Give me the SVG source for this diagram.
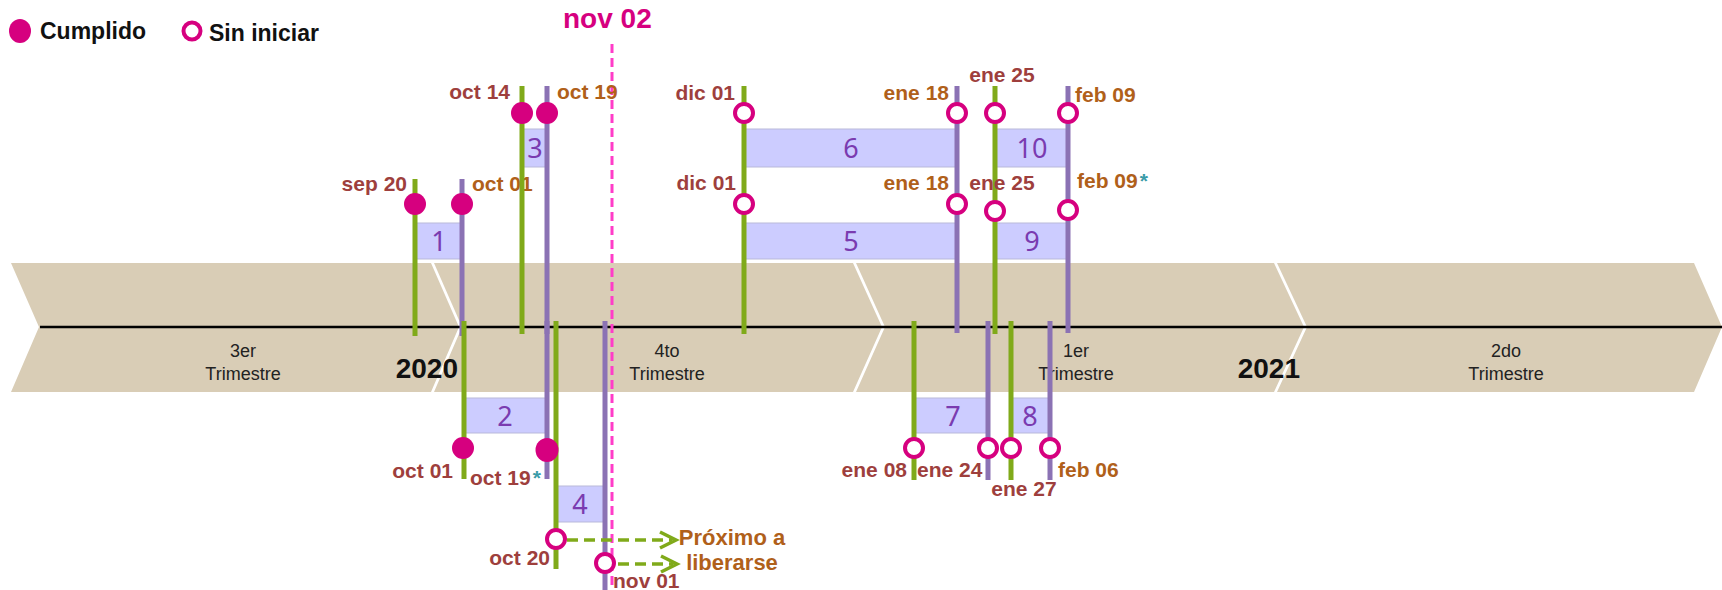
<svg xmlns="http://www.w3.org/2000/svg" width="1722" height="590" viewBox="0 0 1722 590">
<defs>
<style>
.band{fill:#D9CDB6}
.mid{stroke:#000;stroke-width:2.5}
.qt{font-family:"Liberation Sans",Arial,sans-serif;font-size:18px;fill:#222;text-anchor:middle}
.yr{font-family:"Liberation Sans",Arial,sans-serif;font-size:28px;font-weight:bold;fill:#111;text-anchor:end}
.bar{fill:#CCCCFF;stroke:#B9B9DA;stroke-width:1}
.num{font-family:"Noto Sans","Open Sans",sans-serif;font-size:27px;fill:#7A3BB0;text-anchor:middle}
.g{stroke:#80AA1A;stroke-width:5}
.p{stroke:#8B72B4;stroke-width:5}
.done{fill:#D6007F}
.todo{fill:#fff;stroke:#D6007F;stroke-width:4}
.lb{font-family:"Liberation Sans",Arial,sans-serif;font-size:21px;font-weight:bold}
.r{fill:#9E3F3D}
.o{fill:#B0601A}
.ast{fill:#3A9CA8}
.leg{font-family:"Liberation Sans",Arial,sans-serif;font-size:23px;font-weight:bold;fill:#111}
.now{stroke:#FF3CC8;stroke-width:3;stroke-dasharray:9 5}
.arr{stroke:#80AA1A;stroke-width:3.5;fill:none;stroke-dasharray:11 6}
.ah{stroke:#80AA1A;stroke-width:3.5;fill:none}
</style>
</defs>
<rect width="1722" height="590" fill="#fff"/>

<g id="legend">
<ellipse class="done" cx="20" cy="31" rx="11" ry="12"/>
<text class="leg" x="40" y="39">Cumplido</text>
<circle class="todo" cx="192" cy="31" r="8.5"/>
<text class="leg" x="209" y="41">Sin iniciar</text>
</g>

<g id="timeline">
<polygon class="band" points="11,263 431,263 459,327 431,392 11,392 39,327"/>
<polygon class="band" points="434,263 853,263 882,327 853,392 434,392 462,327"/>
<polygon class="band" points="856,263 1274,263 1304,327 1274,392 856,392 885,327"/>
<polygon class="band" points="1277,263 1694,263 1722,327 1694,392 1277,392 1307,327"/>
<line class="mid" x1="40" y1="327" x2="1722" y2="327"/>
<text class="qt" x="243" y="357">3er</text><text class="qt" x="243" y="380">Trimestre</text>
<text class="qt" x="667" y="357">4to</text><text class="qt" x="667" y="380">Trimestre</text>
<text class="qt" x="1076" y="357">1er</text><text class="qt" x="1076" y="380">Trimestre</text>
<text class="qt" x="1506" y="357">2do</text><text class="qt" x="1506" y="380">Trimestre</text>
<text class="yr" x="458" y="378">2020</text>
<text class="yr" x="1300" y="378">2021</text>
</g>

<g id="today">
<line class="now" x1="612" y1="44" x2="612" y2="590"/>
<text class="lb" x="563" y="28" style="font-size:28px;fill:#D6007F">nov 02</text>
</g>

<g id="task1"><rect class="bar" x="416" y="223" width="46" height="36"/><text class="num" x="439" y="251">1</text></g>
<g id="task3"><rect class="bar" x="522" y="129" width="25" height="38"/><text class="num" x="535" y="158">3</text></g>
<g id="task6"><rect class="bar" x="744" y="129" width="213" height="38"/><text class="num" x="851" y="158">6</text></g>
<g id="task5"><rect class="bar" x="744" y="223" width="213" height="36"/><text class="num" x="851" y="251">5</text></g>
<g id="task10"><rect class="bar" x="995" y="129" width="73" height="38"/><text class="num" x="1032" y="158">10</text></g>
<g id="task9"><rect class="bar" x="995" y="223" width="73" height="36"/><text class="num" x="1032" y="251">9</text></g>
<g id="task2"><rect class="bar" x="464" y="398" width="83" height="35"/><text class="num" x="505" y="426">2</text></g>
<g id="task4"><rect class="bar" x="555" y="486" width="50" height="36"/><text class="num" x="580" y="514">4</text></g>
<g id="task7"><rect class="bar" x="914" y="398" width="74" height="35"/><text class="num" x="953" y="426">7</text></g>
<g id="task8"><rect class="bar" x="1010" y="398" width="40" height="35"/><text class="num" x="1030" y="426">8</text></g>

<g id="m-sep20"><line class="g" x1="415" y1="179" x2="415" y2="336"/><circle class="done" cx="415" cy="204" r="11"/><text class="lb r" x="407" y="191" text-anchor="end">sep 20</text></g>
<g id="m-oct01a"><line class="p" x1="462" y1="179" x2="462" y2="336"/><circle class="done" cx="462" cy="204" r="11"/><text class="lb o" x="472" y="191">oct 01</text></g>
<g id="m-oct14"><line class="g" x1="522" y1="86" x2="522" y2="334"/><circle class="done" cx="522" cy="113" r="11"/><text class="lb r" x="510" y="99" text-anchor="end">oct 14</text></g>
<g id="m-oct19a"><line class="p" x1="547" y1="86" x2="547" y2="334"/><circle class="done" cx="547" cy="113" r="11"/><text class="lb o" x="557" y="99">oct 19</text></g>
<g id="m-dic01"><line class="g" x1="744" y1="86" x2="744" y2="334"/><circle class="todo" cx="744" cy="113" r="9"/><circle class="todo" cx="744" cy="204" r="9"/><text class="lb r" x="735" y="100" text-anchor="end">dic 01</text><text class="lb r" x="736" y="190" text-anchor="end">dic 01</text></g>
<g id="m-ene18"><line class="p" x1="957" y1="86" x2="957" y2="333"/><circle class="todo" cx="957" cy="113" r="9"/><circle class="todo" cx="957" cy="204" r="9"/><text class="lb o" x="949" y="100" text-anchor="end">ene 18</text><text class="lb o" x="949" y="190" text-anchor="end">ene 18</text></g>
<g id="m-ene25"><line class="g" x1="995" y1="86" x2="995" y2="334"/><circle class="todo" cx="995" cy="113" r="9"/><circle class="todo" cx="995" cy="211" r="9"/><text class="lb r" x="1002" y="82" text-anchor="middle">ene 25</text><text class="lb r" x="1002" y="190" text-anchor="middle">ene 25</text></g>
<g id="m-feb09"><line class="p" x1="1068" y1="86" x2="1068" y2="333"/><circle class="todo" cx="1068" cy="113" r="9"/><circle class="todo" cx="1068" cy="210" r="9"/><text class="lb o" x="1075" y="102">feb 09</text><text class="lb o" x="1077" y="188">feb 09<tspan class="ast" dx="2">*</tspan></text></g>

<g id="m-oct01b"><line class="g" x1="464" y1="321" x2="464" y2="479"/><circle class="done" cx="463" cy="448" r="11"/><text class="lb r" x="453" y="478" text-anchor="end">oct 01</text></g>
<g id="m-oct20"><line class="g" x1="556" y1="321" x2="556" y2="569"/><circle class="todo" cx="556" cy="539" r="9"/><text class="lb r" x="550" y="565" text-anchor="end">oct 20</text></g>
<g id="m-oct19b"><line class="p" x1="547" y1="321" x2="547" y2="479"/><ellipse class="done" cx="547" cy="450" rx="11.5" ry="12"/><text class="lb r" x="470" y="485">oct 19<tspan class="ast" dx="2">*</tspan></text></g>
<g id="m-nov01"><line class="p" x1="605" y1="321" x2="605" y2="590"/><circle class="todo" cx="605" cy="563" r="9"/><text class="lb r" x="613" y="588">nov 01</text></g>
<g id="m-ene08"><line class="g" x1="914" y1="321" x2="914" y2="480"/><circle class="todo" cx="914" cy="448" r="9"/><text class="lb r" x="907" y="477" text-anchor="end">ene 08</text></g>
<g id="m-ene24"><line class="p" x1="988" y1="321" x2="988" y2="480"/><circle class="todo" cx="988" cy="448" r="9"/><text class="lb r" x="917" y="477">ene 24</text></g>
<g id="m-ene27"><line class="g" x1="1011" y1="321" x2="1011" y2="480"/><circle class="todo" cx="1011" cy="448" r="9"/><text class="lb r" x="1024" y="496" text-anchor="middle">ene 27</text></g>
<g id="m-feb06"><line class="p" x1="1050" y1="321" x2="1050" y2="480"/><circle class="todo" cx="1050" cy="448" r="9"/><text class="lb o" x="1058" y="477">feb 06</text></g>

<g id="connectors">
<line class="arr" x1="567" y1="540" x2="672" y2="540"/>
<polyline class="ah" points="660,532 676,540 660,548"/>
<line class="arr" x1="618" y1="564" x2="673" y2="564"/>
<polyline class="ah" points="661,556 677,564 661,572"/>
</g>

<g id="note">
<text class="lb o" x="732" y="545" text-anchor="middle" style="font-size:22px">Próximo a</text>
<text class="lb o" x="732" y="570" text-anchor="middle" style="font-size:22px">liberarse</text>
</g>
</svg>
